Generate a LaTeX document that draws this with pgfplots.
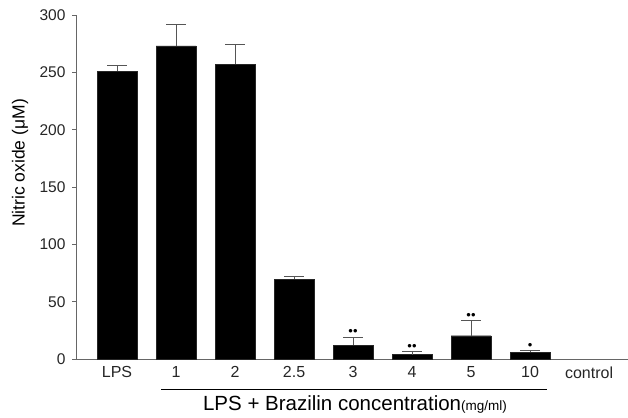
\documentclass[border=0pt]{standalone}
\usepackage{fontspec}
\setmainfont{Liberation Sans}
\usepackage{pgfplots}
\pgfplotsset{compat=1.18}
\definecolor{axisgray}{HTML}{666666}
\definecolor{errgray}{HTML}{555555}
\begin{document}
\begin{tikzpicture}
\useasboundingbox (-76pt,-58pt) rectangle (552pt,359pt);
\begin{axis}[
  at={(0pt,0pt)}, anchor=south west,
  width=552pt, height=344pt, scale only axis,
  xmin=-0.695, xmax=8.66, ymin=0, ymax=300,
  axis x line*=bottom, axis y line*=left,
  axis line style={axisgray, line width=0.8pt, -},
  ytick={0,50,...,300},
  tick align=outside,
  major tick length=4pt,
  y tick style={axisgray, line width=0.8pt},
  x tick style={draw=none},
  xtick={0,...,8},
  xticklabels={LPS,1,2,2.5,3,4,5,10,control},
  yticklabel style={font=\fontsize{15.5}{17}\selectfont, text=black!85, xshift=-3pt},
  xticklabel style={font=\fontsize{16}{18}\selectfont, text=black!85},
  /pgf/number format/assume math mode=true,
  clip=false,
]
\addplot[ybar, bar width=40pt, fill=black, draw=black!85,
  error bars/.cd, y dir=plus, y explicit,
  error bar style={errgray, line width=0.9pt},
  error mark options={rotate=90, mark size=10pt, errgray, line width=0.9pt}]
  table[x=x, y=y, y error=e] {
x y e
0 251 5
1 273 19
2 257 17
3 69.5 2.5
4 12 6.5
5 3.8 2.6
6 20.3 13.4
7 5.8 1.8
};
% significance markers
\addplot[draw=none, mark=none, point meta=explicit symbolic,
  nodes near coords, nodes near coords style={anchor=center, inner sep=0pt, font=\fontsize{13}{14}\selectfont}]
  coordinates {(4,23.5)[••] (5,10)[••] (6,37.5)[••] (7,11.3)[•]};
\end{axis}
\node[rotate=90] at (-56pt,196pt) {\fontsize{17.5}{20}\selectfont Nitric oxide (μM)};
\draw[line width=1pt] (85pt,-30pt) -- (471pt,-30pt);
\node[anchor=base] at (279pt,-51pt) {\fontsize{20.5}{22}\selectfont LPS + Brazilin concentration{\fontsize{13.5}{14}\selectfont(mg/ml)}};
\end{tikzpicture}
\end{document}
